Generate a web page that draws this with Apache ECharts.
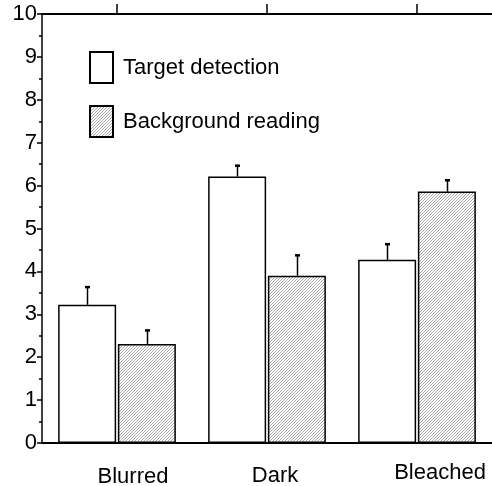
<!DOCTYPE html>
<html>
<head>
<meta charset="utf-8">
<style>html,body{margin:0;padding:0;background:#fff;}#c{width:492px;height:486px;}</style>
<script src="https://cdn.jsdelivr.net/npm/echarts@6/dist/echarts.min.js"></script>
</head>
<body>
<div id="c"></div>
<script>
const categories = ['Blurred', 'Dark', 'Bleached'];
const targetMeans = [3.22, 6.21, 4.27];
const targetErrors = [0.42, 0.26, 0.37];
const backgroundMeans = [2.31, 3.90, 5.86];
const backgroundErrors = [0.32, 0.48, 0.27];
const seriesNames = ['Target detection', 'Background reading'];

const BAR_W = 58;
const GAP_PCT = 3;
const FONT = "'Liberation Sans', Arial, Helvetica, sans-serif";
const FS = 22;

function hatch() {
  const c = document.createElement('canvas');
  c.width = 3; c.height = 3;
  const g = c.getContext('2d');
  g.fillStyle = '#ffffff';
  g.fillRect(0, 0, 3, 3);
  g.fillStyle = '#a8a8a8';
  for (let i = 0; i < 3; i++) g.fillRect(i, 2 - i, 1, 1);
  return c;
}

function errRender(sign) {
  return function (params, api) {
    const xi = api.value(0);
    const top = api.value(1);
    const base = api.value(2);
    const p0 = api.coord([xi, base]);
    const p1 = api.coord([xi, top]);
    const dx = sign * (BAR_W + BAR_W * GAP_PCT / 100) / 2;
    const x = Math.round(p0[0] + dx) + 0.5;
    return {
      type: 'group',
      children: [
        { type: 'line', shape: { x1: x, y1: p0[1], x2: x, y2: p1[1] }, style: { stroke: '#000', lineWidth: 1.5 } },
        { type: 'rect', shape: { x: x - 2.5, y: p1[1] - 1, width: 5, height: 2.5 }, style: { fill: '#000' } }
      ]
    };
  };
}

const labelShift = [16, 8, 23];
const labelTop = [4, 3, 0];

const chart = echarts.init(document.getElementById('c'));
chart.setOption({
  animation: false,
  textStyle: { fontFamily: FONT },
  grid: { left: 42, right: 0, top: 14, bottom: 43, containLabel: false, outerBoundsMode: 'none' },
  legend: {
    orient: 'vertical',
    left: 84,
    top: 46,
    itemWidth: 23,
    itemHeight: 31,
    itemGap: 21,
    icon: 'rect',
    data: seriesNames,
    textStyle: { fontSize: FS, color: '#000', fontFamily: FONT, padding: [0, 0, 0, 5] }
  },
  xAxis: [
    {
      type: 'category',
      data: categories,
      position: 'bottom',
      axisLine: { lineStyle: { color: '#000', width: 2 } },
      axisTick: { show: false },
      axisLabel: {
        interval: 0,
        hideOverlap: false,
        margin: 19,
        color: '#000',
        fontSize: FS,
        fontFamily: FONT,
        formatter: function (v, i) { return '{l' + i + '|' + v + '}'; },
        rich: {
          l0: { fontSize: FS, fontFamily: FONT, color: '#000', padding: [labelTop[0], 0, 0, labelShift[0] * 2] },
          l1: { fontSize: FS, fontFamily: FONT, color: '#000', padding: [labelTop[1], 0, 0, labelShift[1] * 2] },
          l2: { fontSize: FS, fontFamily: FONT, color: '#000', padding: [labelTop[2], 0, 0, labelShift[2] * 2] }
        }
      }
    },
    {
      type: 'category',
      data: categories,
      position: 'top',
      axisLine: { lineStyle: { color: '#000', width: 2 } },
      axisTick: { show: true, interval: 0, alignWithLabel: true, length: 10, lineStyle: { color: '#000', width: 1.5 } },
      axisLabel: { show: false }
    }
  ],
  yAxis: {
    type: 'value',
    min: 0,
    max: 10,
    interval: 1,
    axisLine: { show: true, lineStyle: { color: '#000', width: 1.5 } },
    axisTick: { show: true, length: 5, lineStyle: { color: '#000', width: 1.5 } },
    minorTick: { show: true, splitNumber: 2, length: 3, lineStyle: { color: '#000', width: 1.5 } },
    splitLine: { show: false },
    axisLabel: { margin: 5, color: '#000', fontSize: FS, fontFamily: FONT }
  },
  series: [
    {
      name: seriesNames[0],
      type: 'bar',
      barWidth: BAR_W,
      barGap: GAP_PCT + '%',
      data: targetMeans,
      itemStyle: { color: '#ffffff', borderColor: '#000', borderWidth: 1.5 }
    },
    {
      name: seriesNames[1],
      type: 'bar',
      barWidth: BAR_W,
      barGap: GAP_PCT + '%',
      data: backgroundMeans,
      itemStyle: { color: { image: hatch(), repeat: 'repeat' }, borderColor: '#000', borderWidth: 1.5 }
    },
    {
      type: 'custom',
      renderItem: errRender(-1),
      data: categories.map((c, i) => [i, targetMeans[i] + targetErrors[i], targetMeans[i]]),
      z: 3
    },
    {
      type: 'custom',
      renderItem: errRender(1),
      data: categories.map((c, i) => [i, backgroundMeans[i] + backgroundErrors[i], backgroundMeans[i]]),
      z: 3
    }
  ]
});
</script>
</body>
</html>
